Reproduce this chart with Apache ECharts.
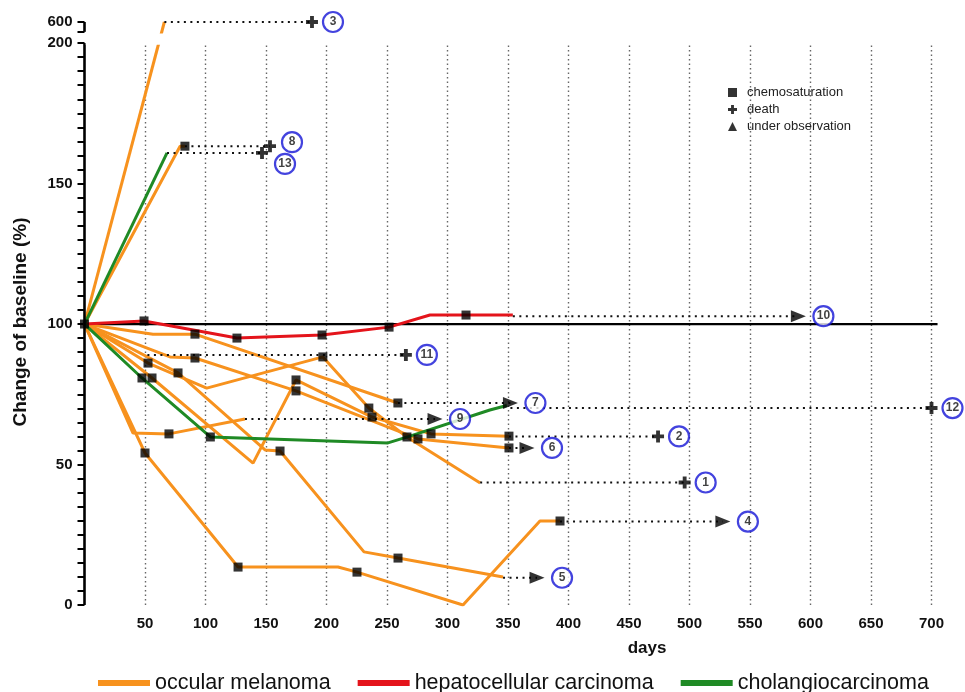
<!DOCTYPE html>
<html><head><meta charset="utf-8">
<script src="https://cdn.jsdelivr.net/npm/echarts@6/dist/echarts.min.js"></script>
<style>html,body{margin:0;padding:0;background:#fff}#c{width:965px;height:692px}</style>
</head><body><div id="c"></div>
<script>
// ---------------- data ----------------
const xTickLabels = [50,100,150,200,250,300,350,400,450,500,550,600,650,700];
const yTickLabels = [0,50,100,150,200,600];
const BREAK_VALUE = 600;          // value shown above the axis break
const BREAK_POS = 207.5;          // where the break value sits on the axis
const BREAK_GAP = [200, 204];     // axis break band

// patient curves: [day, % of baseline, chemosaturation flag]
const p1  = [[0,100,1],[52.5,86.1,1],[101,77.2],[197,88.3,1],[235,70.1,1],[266.5,59.8,1],[327,43.4]];
const p2  = [[0,100],[55.8,80.8,1],[139.3,50.5],[174.8,80.1,1],[237.6,66.9,1],[286.4,60.9,1],[350.8,60.1,1]];
const p3  = [[0,100],[66,600]];
const p4  = [[0,100],[50,54.1,1],[126.9,13.5,1],[209.5,13.5],[225.2,11.7,1],[312.8,0],[376.4,29.9],[393,29.9,1]];
const p5  = [[0,100],[77.3,82.6,1],[149.2,55.2],[161.6,54.8,1],[231,18.9],[259.1,16.7,1],[345.9,10]];
const p6  = [[0,100],[70.7,88.3],[91.3,87.9,1],[174.8,76.2,1],[275.6,59.1,1],[350.8,55.9,1]];
const p7  = [[0,100],[56.6,96.4],[91.3,96.4,1],[259,71.9,1]];
const p8  = [[0,100],[79,163.3],[83,163.3,1]];
const p9  = [[0,100],[40.1,61.2],[69.8,60.9,1],[132.6,66.2]];
const p10 = [[0,100],[49.2,101.1,1],[126,95,1],[196.3,96.1,1],[251.7,98.9,1],[285.5,103.2],[315.3,103.2,1],[354,103.2]];
const p12 = [[0,100],[47.5,80.8,1],[104,59.8,1],[250.8,57.7],[269,60.1],[335,69.4],[349,71]];
const p13 = [[0,100],[68.2,160.9]];

const melanoma = [p1,p2,p3,p4,p5,p6,p7,p8,p9];
const hepatocellular = [p10];
const cholangio = [p12,p13];

const baseline = [[0,100],[705,100]];

// events: id, start of follow-up (day), event day, value
const deaths = [
  {id:3,  from:66,    day:188,   value:600},
  {id:8,  from:83,    day:153.3, value:163.3},
  {id:13, from:68.2,  day:146.7, value:160.9},
  {id:11, from:52,    day:265.6, value:89},
  {id:12, from:352,   day:700,   value:70.1},
  {id:2,  from:350.8, day:474,   value:60},
  {id:1,  from:327,   day:496,   value:43.6}
];
const observed = [
  {id:10, from:354,   day:590,   value:102.8},
  {id:7,  from:259,   day:352,   value:71.9},
  {id:9,  from:132.6, day:289.7, value:66.2},
  {id:6,  from:350.8, day:365.7, value:55.9},
  {id:4,  from:393,   day:527.6, value:29.7},
  {id:5,  from:345.9, day:374,   value:9.7}
];

// ---------------- styles ----------------
const C_ORANGE = '#f7921e', C_RED = '#e4141b', C_GREEN = '#1f8a25', C_BLUE = '#1414d6';
const PLUS = 'path://M3.4,0H6.6V3.4H10V6.6H6.6V10H3.4V6.6H0V3.4H3.4Z';
const labelOffsetDeath = 21, labelOffsetObs = 25;
const specialLabelOffset = {8:[22,-4], 13:[23,11]};

const yd = v => (v >= BREAK_VALUE ? BREAK_POS : v);

const series = [];
// baseline + vertical dotted gridlines
series.push({
  type:'line', name:'baseline', data: baseline, symbol:'none', z:1, silent:true,
  lineStyle:{color:'#000', width:2.2}, color:'#000',
  markLine:{ silent:true, symbol:['none','none'], label:{show:false}, z:0, animation:false,
    lineStyle:{type:[1.5,3], color:'#666', width:1.4},
    data: xTickLabels.map(d => [{coord:[d,0]},{coord:[d,BREAK_GAP[0]]}]) }
});
// y axis line with break
series.push({
  type:'line', name:'axis', data:[], symbol:'none', silent:true,
  markLine:{ silent:true, symbol:['none','none'], label:{show:false}, z:6, animation:false,
    lineStyle:{type:'solid', color:'#000', width:2.6},
    data:[ [{coord:[0,0]},{coord:[0,BREAK_GAP[0]]}], [{coord:[0,BREAK_GAP[1]]},{coord:[0,BREAK_POS]}] ] }
});

function addGroup(list, name, color){
  list.forEach(pts => {
    series.push({ type:'line', name, color, data: pts.map(p => [p[0], yd(p[1])]), symbol:'none',
      z:3, lineStyle:{color, width:3}, silent:true });
  });
}
addGroup(melanoma, 'occular melanoma', C_ORANGE);
addGroup(hepatocellular, 'hepatocellular carcinoma', C_RED);
addGroup(cholangio, 'cholangiocarcinoma', C_GREEN);

// mask for the axis break on the steep curve
series.push({ type:'line', name:'breakmask', data:[], silent:true,
  markArea:{ silent:true, z:8, itemStyle:{color:'#fff'}, label:{show:false},
    data:[[{coord:[1, BREAK_GAP[0]-0.6]},{coord:[110, BREAK_GAP[1]-0.6]}]] } });

// follow-up dotted lines
deaths.concat(observed).forEach(e => {
  series.push({ type:'line', name:'follow', data:[[e.from, yd(e.value)],[e.day, yd(e.value)]],
    symbol:'none', z:4, silent:true, lineStyle:{color:'#111', width:2, type:[2,4.5]} });
});

// chemosaturation squares
const chemo = [];
[melanoma, hepatocellular, cholangio].forEach(g => g.forEach(pts => pts.forEach(p => { if (p[2]) chemo.push([p[0], yd(p[1])]); })));
series.push({ type:'scatter', name:'chemosaturation', data: chemo, symbol:'rect', symbolSize:9,
  itemStyle:{color:'#000'}, color:'#000', z:9 });
series.push({ type:'scatter', name:'death', data: deaths.map(e => [e.day, yd(e.value)]), symbol:PLUS,
  symbolSize:12, itemStyle:{color:'#000'}, color:'#000', z:9 });
series.push({ type:'scatter', name:'under observation', data: observed.map(e => [e.day, yd(e.value)]),
  symbol:'triangle', symbolRotate:-90, symbolSize:[12,15], itemStyle:{color:'#000'}, color:'#000', z:9 });

// circled patient numbers
const labelData = deaths.map(e => ({ value:[e.day, yd(e.value)], id:e.id,
    symbolOffset: specialLabelOffset[e.id] || [labelOffsetDeath,0] }))
  .concat(observed.map(e => ({ value:[e.day, yd(e.value)], id:e.id,
    symbolOffset: specialLabelOffset[e.id] || [labelOffsetObs,0] })));
series.push({ type:'scatter', name:'ids', data: labelData.map(d => ({value:d.value, symbolOffset:d.symbolOffset, name:String(d.id)})),
  symbol:'circle', symbolSize:20, z:10,
  itemStyle:{color:'#fff', borderColor:C_BLUE, borderWidth:2.2},
  label:{show:true, position:'inside', formatter: p => p.name, color:'#111', fontWeight:'bold',
    fontSize:12, fontFamily:'Liberation Sans, Arial, sans-serif'} });

const chart = echarts.init(document.getElementById('c'), null, {renderer:'canvas'});
chart.setOption({
  animation:false,
  backgroundColor:'#fff',
  grid:{left:84.5, right:9.3, top:22, bottom:87, containLabel:false},
  xAxis:{ type:'value', min:0, max:720,
    axisLine:{show:false}, axisTick:{show:false}, splitLine:{show:false},
    axisLabel:{ customValues: xTickLabels, fontWeight:'bold', fontSize:15, color:'#111', margin:11,
      fontFamily:'"Liberation Sans", Arial, sans-serif' } },
  yAxis:{ type:'value', min:0, max:BREAK_POS,
    axisLine:{show:false}, splitLine:{show:false},
    axisTick:{ show:true, length:7, lineStyle:{color:'#000', width:2},
      customValues: Array.from({length:41}, (_, i) => i*5).concat([BREAK_GAP[1], BREAK_POS]) },
    axisLabel:{ customValues: yTickLabels.map(yd), formatter: v => (v === BREAK_POS ? String(BREAK_VALUE) : String(v)),
      fontWeight:'bold', fontSize:15, color:'#111', margin:12,
      fontFamily:'"Liberation Sans", Arial, sans-serif' } },
  legend:[
    { data:[{name:'chemosaturation', icon:'rect'},{name:'death', icon:PLUS},{name:'under observation', icon:'triangle'}],
      orient:'vertical', left:723, top:81, itemWidth:9, itemHeight:9, itemGap:4, symbolRotate:0,
      selectedMode:false, textStyle:{fontSize:13, color:'#222', fontFamily:'"Liberation Sans", Arial, sans-serif', padding:[0,0,0,5]} },
    { data:['occular melanoma','hepatocellular carcinoma','cholangiocarcinoma'],
      left:93, top:667, itemWidth:52, itemHeight:6, itemGap:27, icon:'rect', selectedMode:false,
      textStyle:{fontSize:21.5, color:'#111', fontFamily:'"Liberation Sans", Arial, sans-serif'} }
  ],
  graphic:[
    { type:'text', x:647, y:648, style:{ text:'days', font:'bold 17px "Liberation Sans", Arial, sans-serif',
      fill:'#111', textAlign:'center', textVerticalAlign:'middle' } },
    { type:'text', x:21, y:322, rotation:Math.PI/2, style:{ text:'Change of baseline (%)',
      font:'bold 19px "Liberation Sans", Arial, sans-serif', fill:'#111', textAlign:'center', textVerticalAlign:'middle' } }
  ],
  series
});
</script></body></html>
